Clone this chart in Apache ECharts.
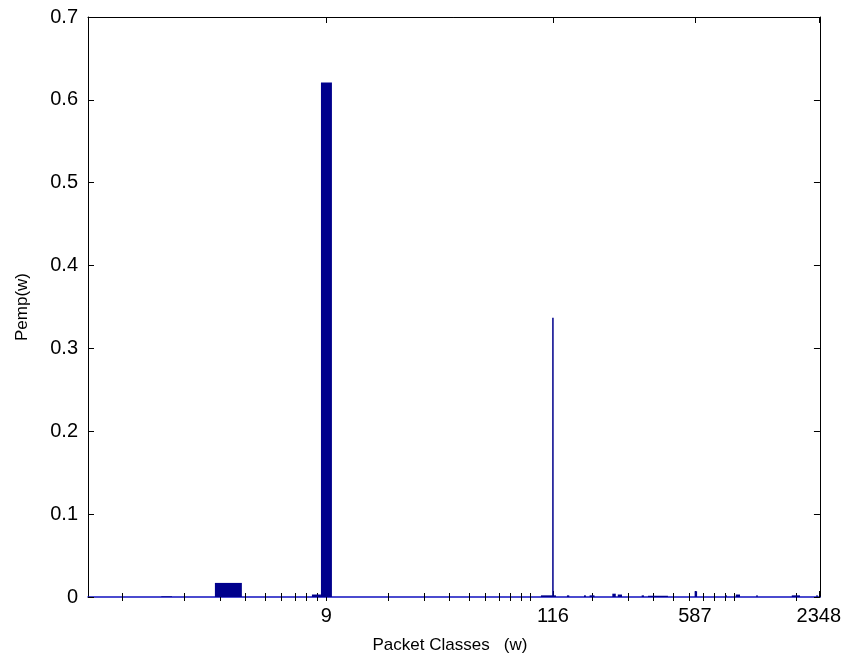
<!DOCTYPE html>
<html>
<head>
<meta charset="utf-8">
<script src="https://cdn.jsdelivr.net/npm/echarts@6/dist/echarts.min.js"></script>
<style>
html,body{margin:0;padding:0;background:#fff;}
#chart{width:844px;height:659px;}
</style>
</head>
<body>
<div id="chart"></div>
<script>
// ---- data (packet class w, log-scaled x axis) ----
const barLeft   = [1.55, 2.84, 8.49, 9.40, 112.6, 127.8, 151, 183, 195, 252, 268, 351, 377, 638, 905, 1015, 1280, 1910, 2520];
const barRight  = [1.75, 3.85, 9.40, 10.64, 133.4, 130.0, 155, 187, 206, 262, 281, 360, 472, 656, 915, 1065, 1300, 2095, 2560];
const barHeight = [0.0008, 0.017, 0.003, 0.621, 0.002, 0.337, 0.002, 0.002, 0.002, 0.004, 0.003, 0.002, 0.0015, 0.007, 0.002, 0.003, 0.002, 0.002, 0.002];

const xTickValues = [10, 129, 640, 2590];
const xTickLabels = ['9', '116', '587', '2348'];
const xMinorTicks = [1,2,3,4,5,6,7,8,9,10,20,30,40,50,60,70,80,90,100,200,300,400,500,600,700,800,900,1000,2000];
const xRange = [0.678, 2625];

const yTickLabels = ['0', '0.1', '0.2', '0.3', '0.4', '0.5', '0.6', '0.7'];

const lg = v => Math.log10(v);
const xMin = lg(xRange[0]), xMax = lg(xRange[1]);
const tickLog = xTickValues.map(lg);
const minorLog = xMinorTicks.map(lg);

const FONT = '"Liberation Sans", Arial, Helvetica, sans-serif';

function xAxisBase(pos, extra) {
  return Object.assign({
    type: 'value', position: pos, min: xMin, max: xMax, offset: 0,
    splitLine: {show: false},
    axisLine: {show: false},
    axisLabel: {show: false},
    axisTick: {show: false}
  }, extra);
}

const option = {
  animation: false,
  backgroundColor: '#fff',
  grid: {left: 88, right: 24, top: 17, bottom: 61, containLabel: false},
  xAxis: [
    xAxisBase('bottom', {
      name: 'Packet Classes   (w)', nameLocation: 'middle', nameGap: 40,
      nameTextStyle: {fontFamily: FONT, fontSize: 17, color: '#000', padding: [0, 8, 0, 0]},
      axisLine: {show: true, onZero: false, lineStyle: {color: '#1010c0', width: 1.5}},
      axisTick: {show: true, inside: true, length: 6, customValues: tickLog, lineStyle: {color: '#000'}},
      axisLabel: {show: true, customValues: tickLog, margin: 9, fontFamily: FONT, fontSize: 20, color: '#000',
        formatter: v => { const i = tickLog.findIndex(t => Math.abs(t - v) < 1e-6); return i >= 0 ? xTickLabels[i] : ''; }}
    }),
    xAxisBase('bottom', {
      axisTick: {show: true, inside: true, length: 4, customValues: minorLog, lineStyle: {color: '#000'}}
    }),
    xAxisBase('top', {
      axisLine: {show: true, onZero: false, lineStyle: {color: '#000', width: 1}},
      axisTick: {show: true, inside: true, length: 6, customValues: tickLog, lineStyle: {color: '#000'}}
    }),
    xAxisBase('top', {
      axisTick: {show: true, inside: true, length: 4, customValues: minorLog, lineStyle: {color: '#000'}}
    })
  ],
  yAxis: [
    {
      type: 'value', position: 'left', min: 0, max: 0.7, interval: 0.1,
      name: 'Pemp(w)', nameLocation: 'middle', nameGap: 57, nameRotate: 90,
      nameTextStyle: {fontFamily: FONT, fontSize: 17, color: '#000'},
      splitLine: {show: false},
      axisLine: {show: true, onZero: false, lineStyle: {color: '#000', width: 1}},
      axisTick: {show: true, inside: true, length: 6, lineStyle: {color: '#000'}},
      axisLabel: {margin: 10, fontFamily: FONT, fontSize: 20, color: '#000',
        formatter: v => yTickLabels[Math.round(v * 10)]}
    },
    {
      type: 'value', position: 'right', min: 0, max: 0.7, interval: 0.1,
      splitLine: {show: false},
      axisLine: {show: true, onZero: false, lineStyle: {color: '#000', width: 1}},
      axisTick: {show: true, inside: true, length: 6, lineStyle: {color: '#000'}},
      axisLabel: {show: false}
    }
  ],
  series: [{
    type: 'custom',
    xAxisIndex: 0, yAxisIndex: 0,
    data: barLeft.map((l, i) => [lg(l), lg(barRight[i]), barHeight[i]]),
    encode: {x: [0, 1], y: 2},
    renderItem: function (params, api) {
      const p0 = api.coord([api.value(0), api.value(2)]);
      const p1 = api.coord([api.value(1), 0]);
      const w = Math.max(p1[0] - p0[0], 1.2);
      return {
        type: 'rect',
        shape: {x: p0[0], y: p0[1], width: w, height: p1[1] - p0[1]},
        style: {fill: '#00008c', stroke: null}
      };
    },
    z: 3
  }]
};

const chart = echarts.init(document.getElementById('chart'), null, {renderer: 'canvas'});
chart.setOption(option);
</script>
</body>
</html>
